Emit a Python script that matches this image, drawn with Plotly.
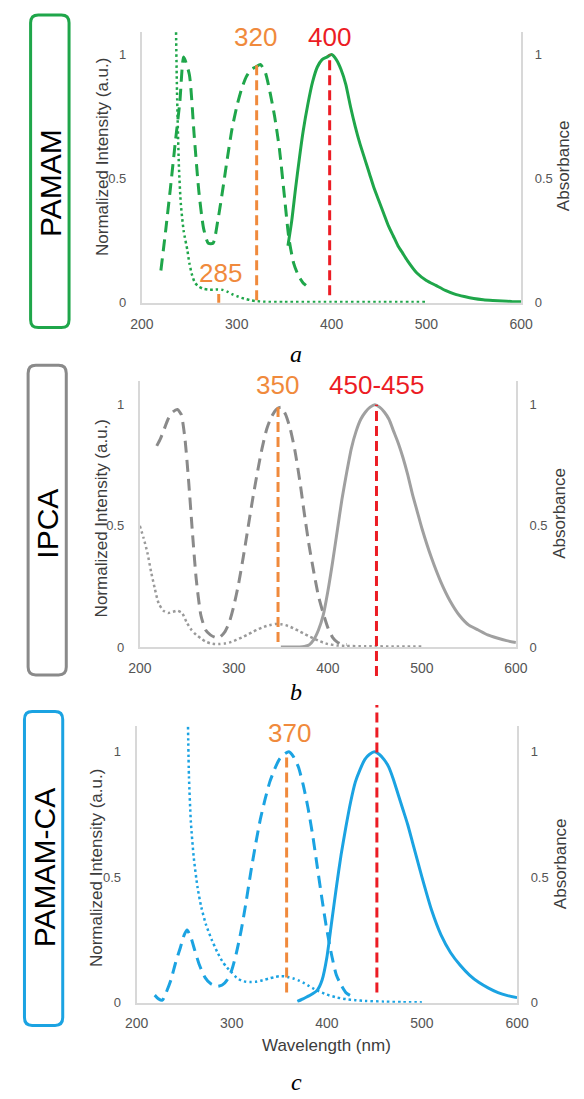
import plotly.graph_objects as go

W, H = 584, 1099

# ---------------- data ----------------
WAVE_TICKS = [200, 300, 400, 500, 600]
INT_TICKS = [0, 0.5, 1]
INT_TICK_TEXT = ["0", "0.5", "1"]

# Panel a - PAMAM
A_EX_X = [220, 225, 230, 235, 240, 244, 250, 255, 260, 265, 270, 275, 280, 285, 290, 295, 300, 305, 310,
          315, 320, 325, 330, 335, 340, 345, 350, 355, 360, 365, 370, 373]
A_EX_Y = [0.13, 0.29, 0.46, 0.64, 0.81, 0.99, 0.92, 0.68, 0.45, 0.30, 0.24, 0.24, 0.33, 0.45, 0.58, 0.70, 0.79,
          0.86, 0.91, 0.94, 0.95, 0.96, 0.93, 0.85, 0.75, 0.62, 0.44, 0.26, 0.16, 0.11, 0.08, 0.07]
A_ABS_X = [236, 237, 239, 241, 244, 248, 250, 253, 256, 260, 265, 270, 275, 280, 285, 290, 295, 300, 305, 310,
           315, 320, 330, 350, 400, 450, 500]
A_ABS_Y = [1.09, 0.85, 0.55, 0.40, 0.29, 0.21, 0.16, 0.11, 0.08, 0.065, 0.056, 0.053, 0.053, 0.054, 0.052,
           0.045, 0.035, 0.027, 0.02, 0.015, 0.01, 0.007, 0.004, 0.003, 0.003, 0.003, 0.003]
A_EM_X = [354, 358, 362, 366, 370, 375, 380, 385, 390, 395, 400, 405, 410, 415, 420, 425, 430, 435, 440, 445,
          450, 455, 460, 465, 470, 475, 480, 490, 500, 510, 520, 530, 540, 550, 560, 570, 580, 590, 600]
A_EM_Y = [0.23, 0.33, 0.46, 0.58, 0.69, 0.80, 0.89, 0.95, 0.98, 0.99, 1.0, 0.98, 0.94, 0.88, 0.79, 0.71, 0.64,
          0.58, 0.52, 0.46, 0.41, 0.36, 0.31, 0.27, 0.23, 0.20, 0.17, 0.12, 0.09, 0.07, 0.05, 0.035, 0.025,
          0.017, 0.012, 0.009, 0.007, 0.005, 0.004]
A_MARK_X = [321, 281, 398]
A_MARK_LOW = [0.01, 0.0, 0.03]
A_MARK_HIGH = [0.96, 0.035, 1.0]
A_LABELS = ["320", "285", "400"]

# Panel b - IPCA
B_EX_X = [218, 222, 226, 230, 235, 240, 244, 248, 252, 256, 260, 265, 270, 275, 280, 285, 290, 295, 300, 305,
          310, 315, 320, 325, 330, 335, 340, 345, 350, 355, 360, 365, 370, 375, 380, 385, 390, 395, 400, 405,
          410, 415, 420]
B_EX_Y = [0.83, 0.86, 0.90, 0.94, 0.97, 0.98, 0.96, 0.86, 0.68, 0.47, 0.28, 0.13, 0.07, 0.05, 0.04, 0.04, 0.06,
          0.10, 0.17, 0.26, 0.37, 0.49, 0.61, 0.72, 0.82, 0.90, 0.95, 0.98, 0.99, 0.96, 0.90, 0.81, 0.69, 0.55,
          0.42, 0.31, 0.21, 0.14, 0.08, 0.04, 0.02, 0.01, 0.01]
B_ABS_X = [200, 204, 208, 212, 216, 220, 225, 230, 235, 240, 245, 250, 255, 260, 265, 270, 275, 280, 285, 290,
           295, 300, 305, 310, 315, 320, 325, 330, 335, 340, 345, 350, 355, 360, 365, 370, 375, 380, 385, 390,
           395, 400, 410, 420, 440, 470, 500]
B_ABS_Y = [0.5, 0.45, 0.39, 0.31, 0.24, 0.18, 0.15, 0.14, 0.145, 0.15, 0.14, 0.1, 0.07, 0.05, 0.035, 0.022,
           0.015, 0.012, 0.012, 0.014, 0.018, 0.025, 0.033, 0.042, 0.052, 0.062, 0.072, 0.08, 0.087, 0.092,
           0.095, 0.094, 0.09, 0.083, 0.074, 0.064, 0.054, 0.044, 0.035, 0.026, 0.018, 0.012, 0.006, 0.004,
           0.003, 0.002, 0.002]
B_EM_X = [350, 360, 370, 375, 380, 385, 390, 395, 400, 405, 410, 415, 420, 425, 430, 435, 440, 445, 450, 455,
          460, 465, 470, 475, 480, 485, 490, 495, 500, 510, 520, 530, 540, 550, 560, 570, 580, 590, 600]
B_EM_Y = [0.0, 0.0, 0.0, 0.002, 0.008, 0.03, 0.07, 0.13, 0.23, 0.35, 0.48, 0.61, 0.72, 0.82, 0.89, 0.94, 0.97,
          0.99, 1.0, 0.99, 0.97, 0.94, 0.89, 0.84, 0.78, 0.71, 0.63, 0.56, 0.49, 0.37, 0.27, 0.19, 0.13, 0.09,
          0.07, 0.05, 0.037, 0.026, 0.018]
B_MARK_X = [347, 451.7]
B_MARK_LOW = [0.02, -0.12]
B_MARK_HIGH = [0.99, 1.0]
B_LABELS = ["350", "450-455"]

# Panel c - PAMAM-CA
C_EX_X = [219, 223, 227, 231, 236, 241, 246, 250, 253, 257, 261, 266, 272, 278, 285, 290, 295, 300, 305, 310,
          315, 320, 325, 330, 335, 340, 345, 350, 355, 360, 365, 370, 375, 380, 385, 390, 395, 400, 405, 410,
          415, 420, 426]
C_EX_Y = [0.03, 0.015, 0.01, 0.04, 0.09, 0.16, 0.22, 0.27, 0.29, 0.26, 0.21, 0.15, 0.10, 0.075, 0.065, 0.07,
          0.09, 0.13, 0.20, 0.29, 0.40, 0.52, 0.63, 0.73, 0.81, 0.88, 0.93, 0.97, 0.99, 1.00, 0.98, 0.94, 0.87,
          0.78, 0.67, 0.54, 0.41, 0.29, 0.19, 0.11, 0.07, 0.04, 0.025]
C_ABS_X = [254, 255, 257, 260, 264, 268, 273, 279, 285, 290, 295, 300, 305, 310, 315, 320, 325, 330, 335, 340,
           345, 350, 355, 360, 365, 370, 375, 380, 385, 390, 395, 400, 410, 420, 430, 440, 460, 480, 500]
C_ABS_Y = [1.10, 0.90, 0.72, 0.58, 0.46, 0.38, 0.31, 0.25, 0.20, 0.165, 0.14, 0.12, 0.10, 0.088, 0.083, 0.082,
           0.083, 0.087, 0.092, 0.097, 0.102, 0.105, 0.105, 0.101, 0.096, 0.089, 0.080, 0.069, 0.058, 0.048,
           0.040, 0.032, 0.021, 0.014, 0.010, 0.007, 0.004, 0.002, 0.001]
C_EM_X = [369, 375, 380, 385, 390, 395, 400, 405, 410, 415, 420, 425, 430, 435, 440, 445, 450, 455, 460, 465,
          470, 475, 480, 485, 490, 495, 500, 510, 520, 530, 540, 550, 560, 570, 580, 590, 600]
C_EM_Y = [0.005, 0.015, 0.025, 0.035, 0.05, 0.09, 0.18, 0.32, 0.46, 0.59, 0.70, 0.80, 0.88, 0.93, 0.97, 0.99,
          1.0, 0.99, 0.97, 0.94, 0.89, 0.83, 0.77, 0.71, 0.64, 0.57, 0.50, 0.37, 0.27, 0.20, 0.15, 0.11, 0.08,
          0.058, 0.04, 0.028, 0.02]
C_MARK_X = [357.7, 452.6]
C_MARK_LOW = [0.04, 0.04]
C_MARK_HIGH = [0.99, 1.187]
C_LABELS = ["370"]

PANEL_NAMES = ["PAMAM", "IPCA", "PAMAM-CA"]
PANEL_LETTERS = ["a", "b", "c"]

# ---------------- styles / geometry ----------------
GREEN, GRAY, BLUE = "#1fa64a", "#8a8a8a", "#1ba3e2"
ORANGE, RED = "#f08a3c", "#ec1c24"
AXIS_COL = "#d8d8d8"
TICK_COL = "#555555"
TITLE_COL = "#3c3c3c"
SANS = "Liberation Sans, Arial, sans-serif"


def fx(x):
    return x / W


def fy(y):
    return 1 - y / H


geo = [
    dict(x0=135.5, x1=531, y0=305, y1=55, ytop=32, ext=(22, 312), box=(19.4, 15, 59.5, 330),
         name_xy=(40, 184), ltitle=(95, 158), rtitle=(575, 167), letter=(296, 357), col=GREEN,
         ex=(A_EX_X, A_EX_Y), ab=(A_ABS_X, A_ABS_Y), em=(A_EM_X, A_EM_Y),
         mk=(A_MARK_X, A_MARK_LOW, A_MARK_HIGH, [ORANGE, ORANGE, RED]),
         labels=[(A_LABELS[0], 254, 37, ORANGE), (A_LABELS[1], 217, 275, ORANGE), (A_LABELS[2], 331, 37, RED)],
         abs_col=GREEN, em_col=GREEN),
    dict(x0=133.3, x1=525.5, y0=651.7, y1=407.7, ytop=383.3, ext=(378, 692), box=(16.8, 368, 56.6, 680),
         name_xy=(37, 527), ltitle=(93, 522), rtitle=(571, 517), letter=(296, 697), col=GRAY,
         ex=(B_EX_X, B_EX_Y), ab=(B_ABS_X, B_ABS_Y), em=(B_EM_X, B_EM_Y),
         mk=(B_MARK_X, B_MARK_LOW, B_MARK_HIGH, [ORANGE, RED]),
         labels=[(B_LABELS[0], 277, 388, ORANGE), (B_LABELS[1], 380, 388, RED)],
         abs_col="#9a9a9a", em_col="#a0a0a0"),
    dict(x0=130, x1=526.7, y0=1010, y1=757.3, ytop=731.8, ext=(705, 1014), box=(13, 716.7, 52.9, 1033),
         name_xy=(34, 874), ltitle=(88, 874), rtitle=(572, 870), letter=(297, 1090), col=BLUE,
         ex=(C_EX_X, C_EX_Y), ab=(C_ABS_X, C_ABS_Y), em=(C_EM_X, C_EM_Y),
         mk=(C_MARK_X, C_MARK_LOW, C_MARK_HIGH, [ORANGE, RED]),
         labels=[(C_LABELS[0], 289, 738, ORANGE)],
         abs_col=BLUE, em_col=BLUE),
]

fig = go.Figure()
layout = dict(width=W, height=H, margin=dict(l=0, r=0, t=0, b=0), paper_bgcolor="white",
              plot_bgcolor="rgba(0,0,0,0)", showlegend=False, shapes=[], annotations=[])


def rrect(x0, y0, x1, y1, r):
    pts = [
        ("M", x0 + r, y0), ("L", x1 - r, y0), ("Q", x1, y0, x1, y0 + r), ("L", x1, y1 - r),
        ("Q", x1, y1, x1 - r, y1), ("L", x0 + r, y1), ("Q", x0, y1, x0, y1 - r), ("L", x0, y0 + r),
        ("Q", x0, y0, x0 + r, y0),
    ]
    s = ""
    for p in pts:
        if p[0] == "Q":
            s += f"Q{fx(p[1]):.5f},{fy(p[2]):.5f} {fx(p[3]):.5f},{fy(p[4]):.5f} "
        else:
            s += f"{p[0]}{fx(p[1]):.5f},{fy(p[2]):.5f} "
    return s + "Z"


for i, g in enumerate(geo):
    xn = "x" if i == 0 else f"x{i + 1}"
    yl = 3 * i + 1
    yr = 3 * i + 2
    ye = 3 * i + 3
    yln = "y" if yl == 1 else f"y{yl}"
    s = g["y0"] - g["y1"]
    top_val = (g["y0"] - g["ytop"]) / s
    rng = [0, top_val]
    xdom = [fx(g["x0"]), fx(g["x1"])]
    ydom = [fy(g["y0"]), fy(g["ytop"])]
    ext_dom = [fy(g["ext"][1]), fy(g["ext"][0])]
    ext_rng = [(g["y0"] - g["ext"][1]) / s, (g["y0"] - g["ext"][0]) / s]

    layout["xaxis" if i == 0 else f"xaxis{i + 1}"] = dict(
        domain=xdom, anchor=yln, range=[200, 600], tickvals=WAVE_TICKS, showline=True, linecolor=AXIS_COL,
        linewidth=2, showgrid=False, zeroline=False, ticks="", ticklabelstandoff=7,
        tickfont=dict(family=SANS, size=14, color=TICK_COL))
    layout["yaxis" if yl == 1 else f"yaxis{yl}"] = dict(
        domain=ydom, anchor=xn, range=rng, tickvals=INT_TICKS, ticktext=INT_TICK_TEXT, showline=True,
        linecolor=AXIS_COL, linewidth=2, showgrid=False, zeroline=False, ticks="", ticklabelstandoff=11,
        tickfont=dict(family=SANS, size=13, color=TICK_COL))
    layout[f"yaxis{yr}"] = dict(
        overlaying=yln, anchor=xn, side="right", range=rng, tickvals=INT_TICKS, ticktext=INT_TICK_TEXT,
        showline=True, linecolor=AXIS_COL, linewidth=2, showgrid=False, zeroline=False, ticks="",
        ticklabelstandoff=9, tickfont=dict(family=SANS, size=13, color=TICK_COL))
    layout[f"yaxis{ye}"] = dict(domain=ext_dom, anchor=xn, range=ext_rng, visible=False, showgrid=False,
                                zeroline=False)

    # curves
    fig.add_trace(go.Scatter(x=g["ab"][0], y=g["ab"][1], xaxis=xn, yaxis=f"y{yr}", mode="lines",
                             line=dict(color=g["abs_col"], width=2.5, dash="2.5px,3px", shape="spline",
                                       smoothing=0.6), hoverinfo="skip"))
    fig.add_trace(go.Scatter(x=g["ex"][0], y=g["ex"][1], xaxis=xn, yaxis=yln, mode="lines",
                             line=dict(color=g["col"], width=3, dash="12px,7px", shape="spline",
                                       smoothing=0.6), hoverinfo="skip"))
    fig.add_trace(go.Scatter(x=g["em"][0], y=g["em"][1], xaxis=xn, yaxis=yln, mode="lines",
                             line=dict(color=g["em_col"], width=3, shape="spline", smoothing=0.6),
                             hoverinfo="skip"))
    # marker lines
    mx, lo, hi, cols = g["mk"]
    for k in range(len(mx)):
        fig.add_trace(go.Scatter(x=[mx[k], mx[k]], y=[lo[k], hi[k]], xaxis=xn, yaxis=f"y{ye}", mode="lines",
                                 line=dict(color=cols[k], width=3, dash="10px,5px"), hoverinfo="skip"))

    # frame box with sample name
    bx0, by0, bx1, by1 = g["box"]
    layout["shapes"].append(dict(type="path", xref="paper", yref="paper", path=rrect(bx0, by0, bx1, by1, 8),
                                 line=dict(color=g["col"], width=3), fillcolor="white", layer="below"))
    ann = layout["annotations"]
    ann.append(dict(x=fx(g["name_xy"][0]), y=fy(g["name_xy"][1]), xref="paper", yref="paper",
                    text=PANEL_NAMES[i], textangle=-90, showarrow=False, xanchor="center", yanchor="middle",
                    font=dict(family=SANS, size=30, color="black")))
    ann.append(dict(x=fx(g["ltitle"][0]), y=fy(g["ltitle"][1]), xref="paper", yref="paper",
                    text="Normalized Intensity (a.u.)", textangle=-90, showarrow=False, xanchor="center",
                    yanchor="middle", font=dict(family=SANS, size=17, color=TITLE_COL)))
    ann.append(dict(x=fx(g["rtitle"][0]), y=fy(g["rtitle"][1]), xref="paper", yref="paper",
                    text="Absorbance", textangle=-90, showarrow=False, xanchor="center",
                    yanchor="middle", font=dict(family=SANS, size=17, color=TITLE_COL)))
    ann.append(dict(x=fx(g["letter"][0]), y=fy(g["letter"][1]), xref="paper", yref="paper",
                    text=f"<i>{PANEL_LETTERS[i]}</i>", showarrow=False, xanchor="center", yanchor="middle",
                    font=dict(family="Liberation Serif, serif", size=24, color="black")))
    for txt, lx, ly, lc in g["labels"]:
        ann.append(dict(x=fx(lx), y=fy(ly), xref="paper", yref="paper", text=txt, showarrow=False,
                        xanchor="center", yanchor="middle", font=dict(family=SANS, size=26, color=lc)))

layout["annotations"].append(dict(x=fx(328.3), y=fy(1053), xref="paper", yref="paper", text="Wavelength (nm)",
                                  showarrow=False, xanchor="center", yanchor="middle",
                                  font=dict(family=SANS, size=17, color=TITLE_COL)))

fig.update_layout(**layout)
fig.write_html("out.html", config={"displayModeBar": False},
               post_script="document.body.style.margin='0';document.body.style.padding='0';")
